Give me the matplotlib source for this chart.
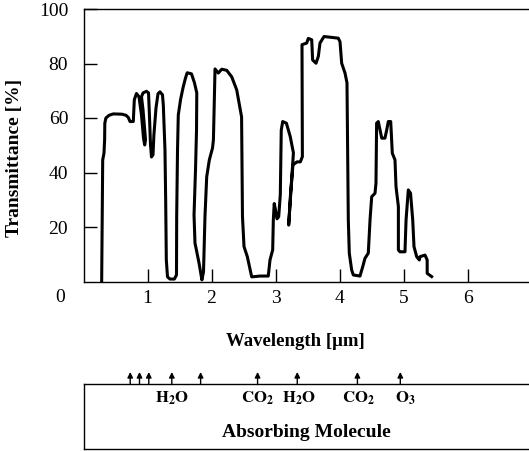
import matplotlib
matplotlib.use("Agg")
import matplotlib.pyplot as plt
import numpy as np

plt.rcParams['font.family'] = ['Liberation Serif', 'DejaVu Serif']
plt.rcParams['mathtext.fontset'] = 'stix'

# traced transmittance curve (wavelength in um, transmittance in %)
wavelength = [0.284, 0.30, 0.32, 0.33, 0.333, 0.35, 0.40, 0.466, 0.60, 0.664, 0.70, 0.727, 0.778,
              0.794, 0.828, 0.867, 0.906, 0.9375, 0.956, 0.969, 0.93, 0.906, 0.93, 0.984, 1.016,
              1.03, 1.047, 1.0625, 1.086, 1.10, 1.133, 1.164, 1.195, 1.234, 1.247, 1.258, 1.273,
              1.284, 1.294, 1.3125, 1.35, 1.42, 1.453, 1.456, 1.469, 1.481, 1.516, 1.555, 1.594,
              1.62, 1.6875, 1.734, 1.77, 1.766, 1.75, 1.727, 1.742, 1.805, 1.85, 1.875, 1.898,
              1.925, 1.966, 2.016, 2.03, 2.044, 2.055, 2.106, 2.16, 2.2375, 2.316, 2.394, 2.445,
              2.47, 2.484, 2.508, 2.56, 2.628, 2.758, 2.887, 2.914, 2.956, 2.966, 2.98, 3.0, 3.023,
              3.05, 3.075, 3.09, 3.1125, 3.17, 3.23, 3.28, 3.206, 3.234, 3.273, 3.336, 3.3875, 3.42,
              3.414, 3.4875, 3.5125, 3.566, 3.58, 3.633, 3.669, 3.695, 3.758, 3.98, 4.008, 4.034,
              4.086, 4.117, 4.1375, 4.153, 4.19, 4.216, 4.32, 4.3625, 4.398, 4.45, 4.477, 4.503,
              4.555, 4.57, 4.58, 4.606, 4.633, 4.66, 4.71, 4.7375, 4.7625, 4.80, 4.825, 4.867,
              4.883, 4.92, 4.92, 4.945, 5.023, 5.04, 5.075, 5.11, 5.144, 5.164, 5.206, 5.247,
              5.258, 5.336, 5.37, 5.37, 5.44]
transmittance = [0.2, 44.6, 47.1, 52, 58.1, 60.0, 61, 61.5, 61.4, 61, 60.2, 58.7, 58.7,
                 66.7, 69.0, 67.8, 61.1, 52.7, 50.1, 52, 63, 67.8, 69.2, 69.8, 69.2,
                 61.1, 50.1, 45.7, 46.5, 53.8, 63.7, 68.9, 69.6, 68.5, 64.8, 57.5, 48.3,
                 29.9, 7.9, 1.7, 0.9, 0.9, 2.4, 23.8, 48.3, 61.1, 66.7, 71.1, 74.7,
                 76.6, 76.2, 72.9, 69.2, 55.6, 40.9, 24.4, 14.1, 6.8, 0.6, 3.5, 23.8,
                 38.4, 44.6, 49.0, 52, 66.7, 78.0, 76.5, 77.9, 77.5, 75.1, 70.3, 63.7,
                 60.4, 23.8, 12.8, 9.1, 1.7, 2.0, 2.0, 7.9, 11.6, 22.6, 28.6, 26.3, 23.0,
                 23.8, 31.8, 55.6, 58.7, 58.1, 53.2, 47.2, 20.7, 31.8, 42.8, 43.9, 43.9, 45.8,
                 86.9, 87.5, 89.2, 88.7, 81.3, 80.1, 82.6, 87.5, 89.9, 89.3, 88.0, 80.1,
                 76.5, 72.9, 22.6, 10.4, 4.2, 2.4, 2.0, 5.4, 8.5, 10.4, 22.6, 31.1,
                 32.4, 36.1, 58.1, 58.7, 55.6, 52.6, 52.6, 55.6, 58.7, 58.7, 47.1, 44.6,
                 34.8, 27.5, 11.6, 10.9, 10.9, 22.6, 33.6, 32.4, 22.6, 12.8, 9.1, 7.9,
                 9.1, 9.7, 7.9, 3.0, 1.8]

# absorption band arrows and molecule labels
arrow_pos = [0.73, 0.875, 1.02, 1.38, 1.83, 2.72, 3.34, 4.28, 4.95]
molecule_pos = [1.39, 2.72, 3.375, 4.30, 5.03]
molecule_names = [r'$\mathbf{H_2O}$', r'$\mathbf{CO_2}$', r'$\mathbf{H_2O}$',
                  r'$\mathbf{CO_2}$', r'$\mathbf{O_3}$']

x_ticks = [1, 2, 3, 4, 5, 6]
y_ticks = [20, 40, 60, 80, 100]

fig = plt.figure(figsize=(5.29, 4.51), dpi=100)
W, H = 529.0, 451.0

ax = fig.add_axes([83.5 / W, 1 - 281.5 / H, 445.5 / W, 272.5 / H])
ax.plot(wavelength, transmittance, color='black', lw=2.2, solid_joinstyle='round')
ax.set_xlim(0, 445.5 / 64)
ax.set_ylim(0, 100)
ax.set_xticks(x_ticks)
ax.set_yticks(y_ticks)
ax.tick_params(direction='in', length=9.5, width=1, labelsize=14, pad=6)
ax.tick_params(axis='y', pad=11)
ax.spines['right'].set_visible(False)
for s in ['left', 'top', 'bottom']:
    ax.spines[s].set_linewidth(1.0)
ax.text(-0.367, -5.7, '0', fontsize=14, ha='center', va='center', clip_on=False)

fig.text(15 / W, 1 - 158 / H, 'Transmittance [%]', rotation=90, ha='center', va='center',
         fontsize=14, fontweight='bold')
fig.text(295 / W, 1 - 341 / H, 'Wavelength [μm]', ha='center', va='center',
         fontsize=13.5, fontweight='bold')

# lower box with absorbing molecules
bx = fig.add_axes([83.5 / W, 1 - 449 / H, 445.5 / W, 64.7 / H])
bx.set_xlim(0, 445.5 / 64)
bx.set_ylim(0, 1)
bx.set_xticks([])
bx.set_yticks([])
bx.spines['right'].set_visible(False)
for s in ['left', 'top', 'bottom']:
    bx.spines[s].set_linewidth(1.0)
for p in arrow_pos:
    bx.annotate('', xy=(p, 1.19), xytext=(p, 1.0),
                arrowprops=dict(arrowstyle='-|>', color='black', lw=1.0,
                                mutation_scale=8, shrinkA=0, shrinkB=0),
                annotation_clip=False)
for p, name in zip(molecule_pos, molecule_names):
    bx.text(p, 0.79, name, ha='center', va='center', fontsize=12)
bx.text(0.5, 0.26, 'Absorbing Molecule', transform=bx.transAxes, ha='center', va='center',
        fontsize=14, fontweight='bold')

fig.savefig('out.png', dpi=100)
